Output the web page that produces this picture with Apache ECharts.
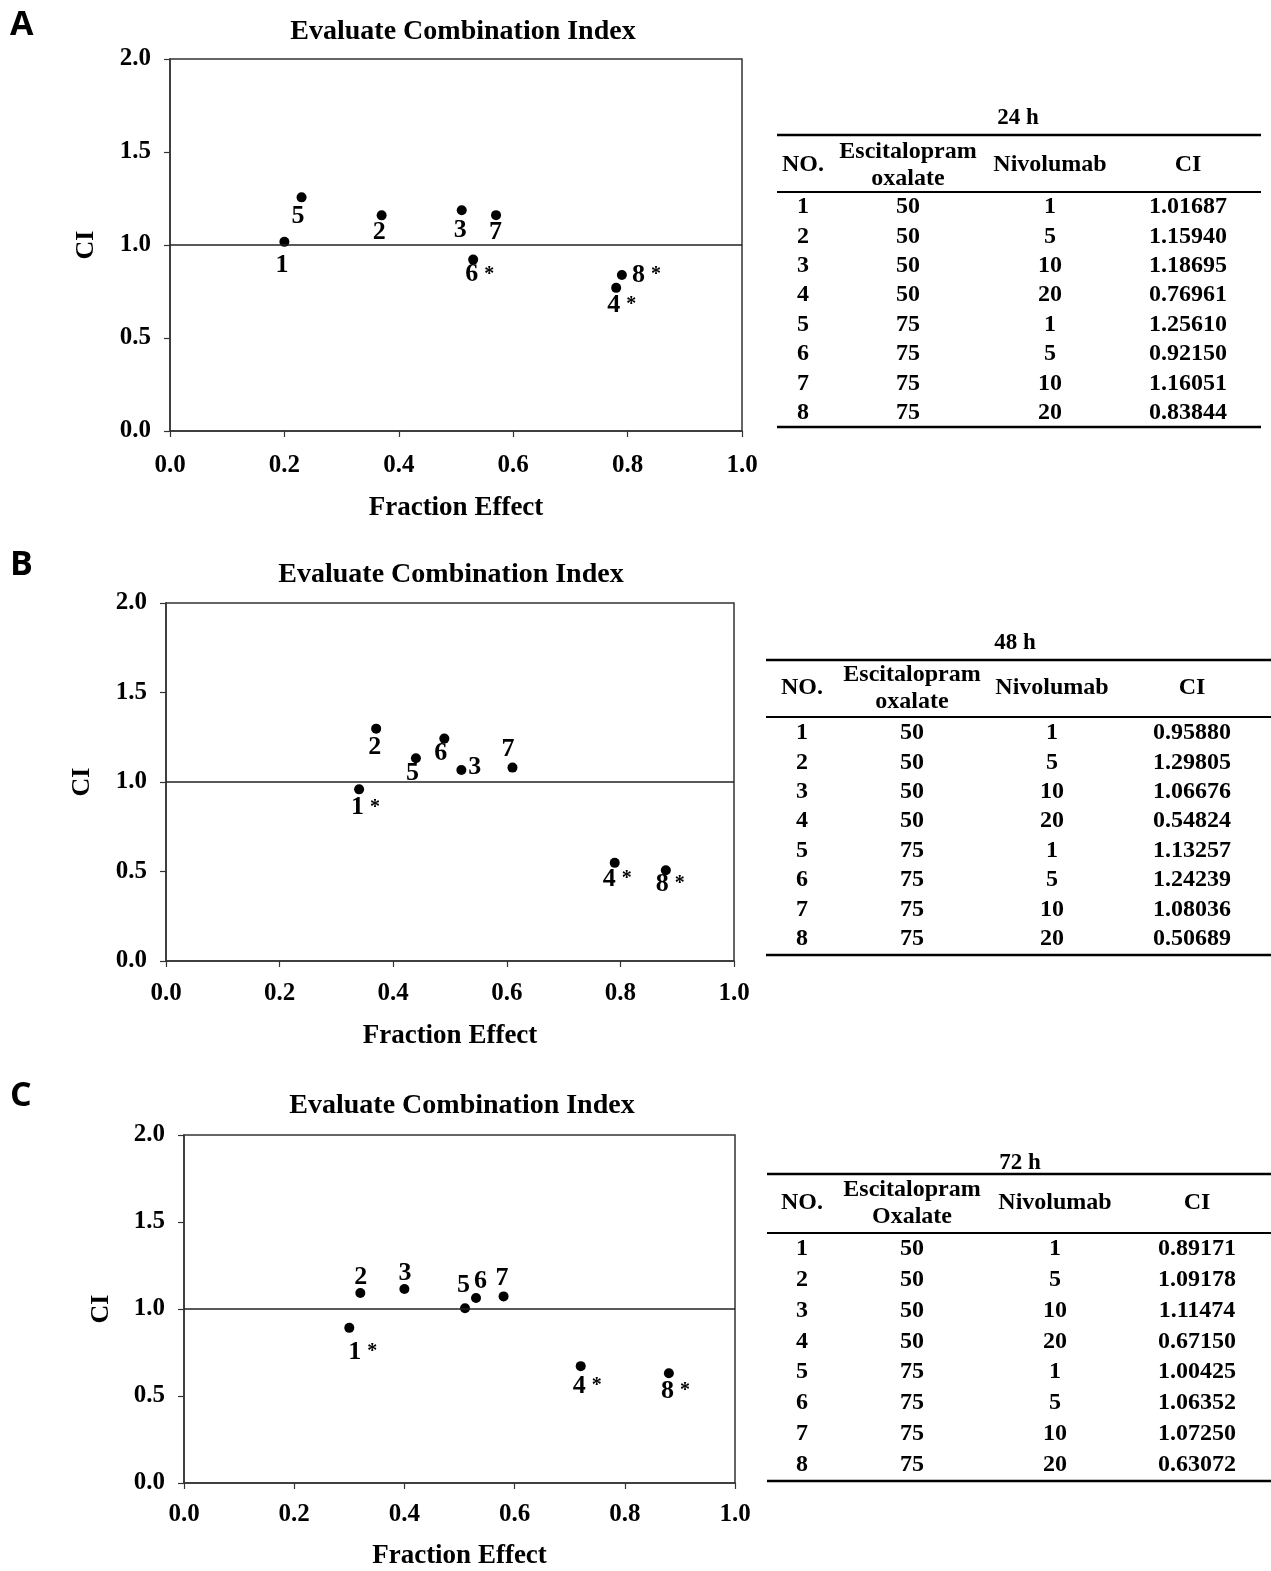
<!DOCTYPE html>
<html>
<head>
<meta charset="utf-8">
<title>Evaluate Combination Index</title>
<script src="https://cdn.jsdelivr.net/npm/echarts@6/dist/echarts.min.js"></script>
<style>
html,body{margin:0;padding:0;background:#fff;}
#main{width:1271px;height:1571px;}
</style>
</head>
<body>
<div id="main"></div>
<script>
// combinations (same for all three time points)
var comboNo = [1, 2, 3, 4, 5, 6, 7, 8];
var escitalopramDose = [50, 50, 50, 50, 75, 75, 75, 75];
var nivolumabDose = [1, 5, 10, 20, 1, 5, 10, 20];

// fraction effect and CI (from the tables)
var fa24 = [0.20, 0.37, 0.51, 0.78, 0.23, 0.53, 0.57, 0.79];
var ci24 = [1.01687, 1.15940, 1.18695, 0.76961, 1.25610, 0.92150, 1.16051, 0.83844];
var fa48 = [0.34, 0.37, 0.52, 0.79, 0.44, 0.49, 0.61, 0.88];
var ci48 = [0.95880, 1.29805, 1.06676, 0.54824, 1.13257, 1.24239, 1.08036, 0.50689];
var fa72 = [0.30, 0.32, 0.40, 0.72, 0.51, 0.53, 0.58, 0.88];
var ci72 = [0.89171, 1.09178, 1.11474, 0.67150, 1.00425, 1.06352, 1.07250, 0.63072];

var xTicks = ['0.0', '0.2', '0.4', '0.6', '0.8', '1.0'];
var yTicks = ['0.0', '0.5', '1.0', '1.5', '2.0'];

// where each point number sits relative to its dot (px)
var shift24 = [[-3,23],[-3,17],[-2,20],[-3,17],[-4,19],[-2,15],[-1,17],[16,0]];
var shift48 = [[-2,18],[-2,19],[13,-3],[-6,16],[-4,15],[-4,15],[-5,-18],[-4,14]];
var shift72 = [[5,24],[0,-16],[0,-16],[-2,20],[-2,-23],[4,-17],[-2,-18],[-2,18]];

var SERIF = '"Liberation Serif", "Times New Roman", serif';
var INK = '#000';

var panels = [
	{letter:'A', y0:25, fa:fa24, ci:ci24, shift:shift24, hours:'24 h', esc2:'oxalate',
	 grid:{left:170, top:59, width:572, height:372}, titleX:463, titleY:32, lblMargin:22, xGap:64, yGap:71,
	 tab:{x1:777, x2:1261, tx:1018, ty:118, rules:[135,192,427], hy:165, cols:[803,908,1050,1188], r0:207, step:29.4}},
	{letter:'B', y0:565, fa:fa48, ci:ci48, shift:shift48, hours:'48 h', esc2:'oxalate',
	 grid:{left:166, top:603, width:568, height:358}, titleX:451, titleY:575, lblMargin:20, xGap:62, yGap:71,
	 tab:{x1:766, x2:1271, tx:1015, ty:643, rules:[660,717,955], hy:688, cols:[802,912,1052,1192], r0:733, step:29.4}},
	{letter:'C', y0:1096, fa:fa72, ci:ci72, shift:shift72, hours:'72 h', esc2:'Oxalate',
	 grid:{left:184, top:1135, width:551, height:352}, titleX:462, titleY:1106, lblMargin:19, xGap:60, yGap:70,
	 tab:{x1:767, x2:1271, tx:1020, ty:1163, rules:[1174,1233,1481], hy:1203, cols:[802,912,1055,1197], r0:1249, step:30.8}}
];

function txt(s, x, y, font, align) {
	return {
		type: 'text', silent: true,
		style: {text: s, x: x, y: y, font: font, fill: INK,
			textAlign: align || 'center', align: align || 'center',
			textVerticalAlign: 'middle', verticalAlign: 'middle', lineHeight: 27}
	};
}
function rule(x1, x2, y, w) {
	return {type: 'line', silent: true, shape: {x1: x1, y1: y, x2: x2, y2: y}, style: {stroke: INK, lineWidth: w}};
}

var chart = echarts.init(document.getElementById('main'));

var option = {
	backgroundColor: '#fff',
	animation: false,
	grid: [], xAxis: [], yAxis: [], series: [], graphic: []
};

panels.forEach(function(p, k) {
	var g = p.grid;
	option.grid.push({left: g.left, top: g.top, width: g.width, height: g.height,
		show: true, borderColor: '#333', borderWidth: 1.5, containLabel: false});

	option.xAxis.push({
		gridIndex: k, type: 'value', min: 0, max: 1, interval: 0.2,
		name: 'Fraction Effect', nameLocation: 'middle', nameGap: p.xGap,
		nameTextStyle: {fontFamily: SERIF, fontWeight: 'bold', fontSize: 27, color: INK},
		axisLine: {show: true, lineStyle: {color: '#333', width: 1.5}},
		axisTick: {show: true, inside: false, length: 6, lineStyle: {color: '#333', width: 1.2}},
		axisLabel: {margin: p.lblMargin, fontFamily: SERIF, fontWeight: 'bold', fontSize: 25, color: INK,
			formatter: function(v, i) { return xTicks[i]; }},
		splitLine: {show: false}
	});
	option.yAxis.push({
		gridIndex: k, type: 'value', min: 0, max: 2, interval: 0.5,
		name: 'CI', nameLocation: 'middle', nameGap: p.yGap,
		nameTextStyle: {fontFamily: SERIF, fontWeight: 'bold', fontSize: 26, color: INK},
		axisLine: {show: true, lineStyle: {color: '#333', width: 1.5}},
		axisTick: {show: true, inside: false, length: 6, lineStyle: {color: '#333', width: 1.2}},
		axisLabel: {margin: 19, fontFamily: SERIF, fontWeight: 'bold', fontSize: 25, color: INK,
			formatter: function(v, i) { return yTicks[i]; }},
		splitLine: {show: false}
	});

	var pts = p.fa.map(function(x, i) {
		var star = p.ci[i] < 1;   // synergy marked with *
		return {
			value: [x, p.ci[i]],
			label: {
				formatter: '{n|' + comboNo[i] + '}' + (star ? '{s|*}' : ''),
				offset: [p.shift[i][0] - 6, p.shift[i][1]]
			}
		};
	});

	option.series.push({
		type: 'scatter', xAxisIndex: k, yAxisIndex: k,
		symbol: 'circle', symbolSize: 10,
		itemStyle: {color: '#000', opacity: 1},
		label: {
			show: true, position: 'inside', align: 'left', verticalAlign: 'middle',
			color: INK, textBorderWidth: 0,
			rich: {
				n: {fontFamily: SERIF, fontWeight: 'bold', fontSize: 26, color: INK, textBorderWidth: 0},
				s: {fontFamily: SERIF, fontWeight: 'bold', fontSize: 20, color: INK, textBorderWidth: 0, padding: [0, 0, 0, 6]}
			}
		},
		markLine: {
			silent: true, symbol: 'none', label: {show: false},
			lineStyle: {color: '#222', type: 'solid', width: 1.6},
			data: [{yAxis: 1}]
		},
		data: pts
	});

	// panel letter and title
	option.graphic.push(txt(p.letter, 10, p.y0, 'bold 34px "Open Sans", "Noto Sans", sans-serif', 'left'));
	option.graphic.push(txt('Evaluate Combination Index', p.titleX, p.titleY, 'bold 28px ' + SERIF));

	// table
	var t = p.tab;
	var f = 'bold 24px ' + SERIF;
	option.graphic.push(txt(p.hours, t.tx, t.ty, 'bold 23px ' + SERIF));
	option.graphic.push(rule(t.x1, t.x2, t.rules[0], 2.5));
	option.graphic.push(rule(t.x1, t.x2, t.rules[1], 2.2));
	option.graphic.push(rule(t.x1, t.x2, t.rules[2], 2.5));
	option.graphic.push(txt('NO.', t.cols[0], t.hy, f));
	option.graphic.push(txt('Escitalopram\n' + p.esc2, t.cols[1], t.hy, f));
	option.graphic.push(txt('Nivolumab', t.cols[2], t.hy, f));
	option.graphic.push(txt('CI', t.cols[3], t.hy, f));
	comboNo.forEach(function(n, i) {
		var y = t.r0 + i * t.step;
		option.graphic.push(txt(String(n), t.cols[0], y, f));
		option.graphic.push(txt(String(escitalopramDose[i]), t.cols[1], y, f));
		option.graphic.push(txt(String(nivolumabDose[i]), t.cols[2], y, f));
		option.graphic.push(txt(p.ci[i].toFixed(5), t.cols[3], y, f));
	});
});

chart.setOption(option);
</script>
</body>
</html>
